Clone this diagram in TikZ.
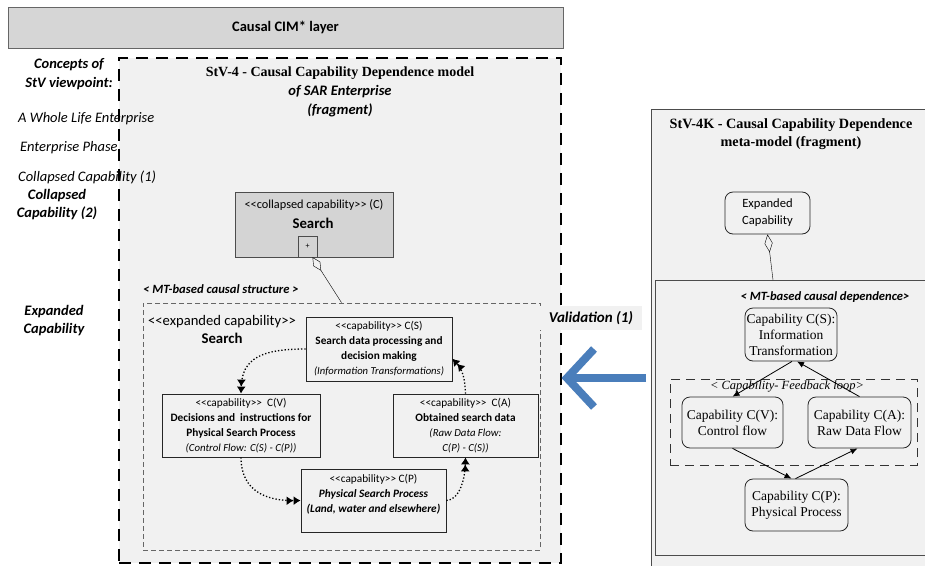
\documentclass[tikz,border=0pt]{standalone}
\usepackage{fontspec}
\setmainfont{Liberation Serif}
\newfontfamily\calibri[Ligatures=TeXOff]{Carlito}
\usetikzlibrary{arrows.meta,calc}
\definecolor{valblue}{RGB}{74,126,187}
\definecolor{panel}{RGB}{241,241,241}

\begin{document}
\begin{tikzpicture}[x=1pt,y=-1pt,
    capbox/.style={draw=black!85,thick,inner sep=0pt,align=center,font=\calibri\fontsize{11.3}{15}\selectfont},
    metabox/.style={draw=black!85,thick,rounded corners=8pt,inner sep=0pt,align=center,font=\fontsize{13.5}{16}\selectfont},
    sidelabel/.style={font=\calibri\itshape\fontsize{14.5}{18}\selectfont,inner sep=0pt},
    flowarrow/.style={line width=1.3pt,dotted,-{Latex[length=7pt,width=9pt]Latex[length=7pt,width=9pt]}},
    metaarrow/.style={thick,-{Latex[length=7pt,width=6pt]}}]
    \clip (0,0) rectangle (925,565);
    \fill[white] (0,0) rectangle (925,565);

    \node[draw=black!60,fill=black!16,minimum width=555pt,minimum height=41pt,font=\calibri\bfseries\fontsize{14.5}{16}\selectfont] (cim) at (285.5,27.5) {Causal CIM* layer};

    \node[draw,line width=1.8pt,dash pattern=on 12pt off 8pt,fill=panel,minimum width=442pt,minimum height=505pt] (stv4) at (340,310.5) {};
    \node[font=\bfseries\fontsize{14}{16}\selectfont] (stv4title) at (340,73) {StV-4 - Causal Capability Dependence model};
    \node[font=\calibri\bfseries\itshape\fontsize{14.5}{19}\selectfont,align=center] (stv4sub) at (340,101.5) {of SAR Enterprise\\(fragment)};

    \node[sidelabel,font=\calibri\bfseries\itshape\fontsize{14.5}{19}\selectfont,align=center] (concepts) at (69,74.5) {Concepts of\\StV viewpoint:};
    \node[sidelabel,anchor=west] (wle) at (18,119) {A Whole Life Enterprise};
    \node[sidelabel,anchor=west] (phase) at (20,148) {Enterprise Phase};
    \node[sidelabel,anchor=west] (coll1) at (18,177) {Collapsed Capability (1)};
    \node[sidelabel,font=\calibri\bfseries\itshape\fontsize{14.5}{18}\selectfont,align=center] (coll2) at (57,205) {Collapsed\\Capability (2)};
    \node[sidelabel,font=\calibri\bfseries\itshape\fontsize{14.5}{18}\selectfont,align=center] (expl) at (54,321) {Expanded\\Capability};

    \node[draw=black!70,thick,fill=black!17,minimum width=158pt,minimum height=65pt] (coll) at (314,224.5) {};
    \node[font=\calibri\fontsize{12.3}{14}\selectfont] (colltype) at (314,205) {<<collapsed capability>> (C)};
    \node[font=\calibri\bfseries\fontsize{14.8}{16}\selectfont] (collname) at (313,223) {Search};
    \node[draw=black!70,fill=black!17,minimum width=19pt,minimum height=21pt,inner sep=0pt,font=\calibri\fontsize{8}{8}\selectfont] (plus) at (307.5,246.5) {+};

    \node[anchor=west,inner sep=0pt,font=\calibri\bfseries\itshape\fontsize{12.6}{14}\selectfont] (mtstruct) at (143,289) {< MT-based causal structure >};
    \node[draw=black!60,thick,dash pattern=on 5pt off 3pt,minimum width=397pt,minimum height=247pt] (expbox) at (341.5,426.5) {};
    \draw[thin,{Diamond[open,length=16pt,width=8pt]}-] ([xshift=5pt]plus.south) -- (expbox.north);
    \node[anchor=west,inner sep=0pt,font=\calibri\fontsize{14.6}{16}\selectfont] (exptype) at (148,322) {<<expanded capability>>};
    \node[font=\calibri\bfseries\fontsize{14.8}{16}\selectfont] (expname) at (222,338) {Search};

    \node[capbox,minimum width=146pt,minimum height=64pt] (cs) at (379,349) {<<capability>> C(S)\\\textbf{Search data processing and}\\\textbf{decision making}\\{\itshape\fontsize{10.6}{15}\selectfont(Information Transformations)}};
    \node[capbox,minimum width=158pt,minimum height=63pt] (cv) at (241,425.5) {<<capability>>\ \ C(V)\\\textbf{Decisions and\ \ instructions for}\\\textbf{Physical Search Process}\\{\itshape\fontsize{10.8}{15}\selectfont(Control Flow: C(S) - C(P))}};
    \node[capbox,minimum width=145pt,minimum height=63pt] (ca) at (465.5,425.5) {<<capability>>\ \ C(A)\\\textbf{Obtained search data}\\{\itshape\fontsize{10.8}{15}\selectfont(Raw Data Flow:}\\{\itshape\fontsize{10.8}{15}\selectfont C(P) - C(S))}};
    \node[capbox,minimum width=145pt,minimum height=63pt] (cp) at (373.5,500.5) {};
    \node[capbox,draw=none] (cptext) at (373.5,494) {<<capability>> C(P)\\\textbf{\textit{Physical Search Process}}\\\textbf{\textit{(Land, water and elsewhere)}}};

    \draw[flowarrow] (cs.west) .. controls (262,349) and (242,358) .. (cv.north);
    \draw[flowarrow] (cv.south) .. controls (241,492) and (268,501) .. (cp.west);
    \draw[flowarrow] (cp.east) .. controls (460,500) and (465,478) .. (ca.south);
    \draw[flowarrow] (ca.north) .. controls (465,380) and (463,370) .. ($(cs.east)!0.3!(cs.south east)$);

    \node[fill=panel,minimum width=102pt,minimum height=24pt,font=\calibri\bfseries\itshape\fontsize{15}{16}\selectfont] (valid) at (591,318) {Validation (1)};
    \coordinate (vtail) at (646,378);
    \coordinate (vtip) at (567,378);
    \draw[line width=8pt,valblue] (vtail) -- (vtip);
    \draw[line width=8pt,valblue,line join=miter] (594,349) -- (vtip) -- (594,407);

    \node[draw=black!70,fill=panel,minimum width=290pt,minimum height=470pt] (stv4k) at (796,344) {};
    \node[font=\bfseries\fontsize{14.2}{18}\selectfont,align=center] (stv4ktitle) at (791,134) {StV-4K - Causal Capability Dependence\\meta-model (fragment)};
    \node[metabox,font=\calibri\fontsize{12.6}{17}\selectfont,minimum width=85pt,minimum height=42pt] (expcap) at (767.5,213) {Expanded\\Capability};
    \node[draw=black!70,minimum width=280pt,minimum height=275pt] (mtbox) at (795,417.5) {};
    \coordinate (mttop) at (773,280);
    \draw[thin,{Diamond[open,length=18pt,width=8pt]}-] (expcap.south) -- (mttop);
    \node[font=\calibri\bfseries\itshape\fontsize{12.6}{14}\selectfont] (mtdep) at (825,297) {< MT-based causal dependence>};

    \node[metabox,minimum width=92pt,minimum height=53pt] (ms) at (791,334.5) {Capability C(S):\\Information\\Transformation};
    \node[draw=black!80,thick,dash pattern=on 9pt off 6pt,minimum width=247pt,minimum height=86pt] (fbloop) at (793.5,422) {};
    \node[font=\itshape\fontsize{12.5}{15}\selectfont] (fblabel) at (787,387) {< Capability- Feedback loop>};
    \node[metabox,minimum width=101pt,minimum height=51pt] (mv) at (732.5,422.5) {Capability C(V):\\Control flow};
    \node[metabox,minimum width=103pt,minimum height=51pt] (ma) at (859.5,422.5) {Capability C(A):\\Raw Data Flow};
    \node[metabox,minimum width=103pt,minimum height=52pt] (mp) at (796.5,505) {Capability C(P):\\Physical Process};

    \draw[metaarrow] ([xshift=1pt]ms.south) -- (mv.north);
    \draw[metaarrow] (ma.north) -- ([xshift=6pt]ms.south);
    \draw[metaarrow] (mv.south) -- ([xshift=-5pt]mp.north);
    \draw[metaarrow] ([xshift=-1pt]mp.north) -- ([xshift=-2pt]ma.south);
\end{tikzpicture}
\end{document}
